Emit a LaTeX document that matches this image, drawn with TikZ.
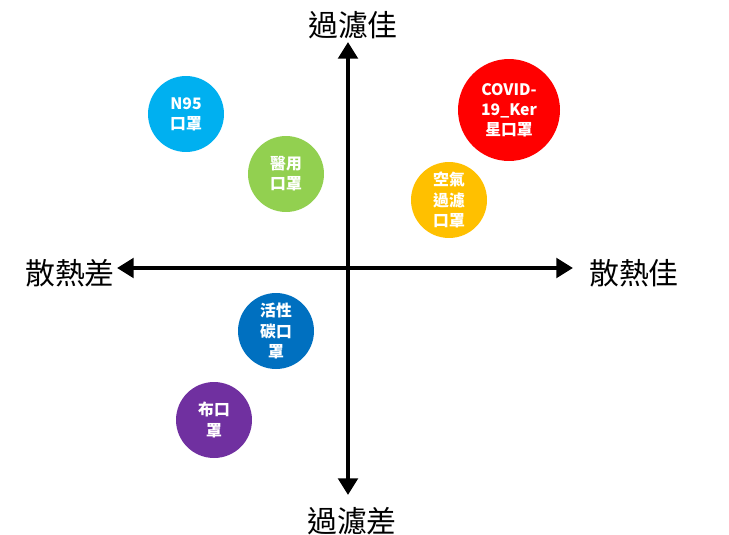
\documentclass[tikz,border=0pt]{standalone}
\usepackage{fontspec}
\setmainfont{Noto Sans CJK TC}
\usetikzlibrary{arrows.meta}

\definecolor{maskcyan}{HTML}{00B0F0}
\definecolor{maskgreen}{HTML}{92D050}
\definecolor{maskred}{HTML}{FF0000}
\definecolor{maskyellow}{HTML}{FFC000}
\definecolor{maskblue}{HTML}{0070C0}
\definecolor{maskpurple}{HTML}{7030A0}

\tikzset{
    axisline/.style={line width=2.4pt,
        {Triangle[length=9.5pt,width=11pt]}-{Triangle[length=9.5pt,width=11pt]}},
    axislabel/.style={inner sep=0pt, font=\fontsize{17}{20}\selectfont},
    mask/.style={circle, inner sep=0pt, minimum size=1.52cm, text=white,
        align=center, font=\bfseries\fontsize{9}{11.5}\selectfont},
}

\begin{document}
\begin{tikzpicture}[
        x=0.02cm,   % 1 px = 0.02cm
        y=-0.02cm,  % y grows downwards, like the screen
    ]

    % Canvas
    \useasboundingbox (0,0) rectangle (729,534);

    % Axis end points
    \coordinate (top) at (348,42);
    \coordinate (bottom) at (348,495);
    \coordinate (left) at (117,268);
    \coordinate (right) at (573,268);

    % Axes
    \draw[axisline] (left) -- (right);
    \draw[axisline] (bottom) -- (top);

    % Axis labels
    \node[axislabel] (goodfilter) at (353,25) {過濾佳};
    \node[axislabel] (poorfilter) at (352,521) {過濾差};
    \node[axislabel] (poorheat) at (70,273) {散熱差};
    \node[axislabel] (goodheat) at (634,273) {散熱佳};

    % Masks
    \node[mask, fill=maskcyan] (n95) at (186,114) {N95\\口罩};
    \node[mask, fill=maskgreen] (medical) at (286,174) {醫用\\口罩};
    \node[mask, fill=maskred, minimum size=2.04cm] (covid) at (509,110) {COVID-\\19\_Ker\\星口罩};
    \node[mask, fill=maskyellow] (airfilter) at (449,200) {空氣\\過濾\\口罩};
    \node[mask, fill=maskblue] (carbon) at (276,331) {活性\\碳口\\罩};
    \node[mask, fill=maskpurple] (cloth) at (214,420) {布口\\罩};

\end{tikzpicture}
\end{document}
